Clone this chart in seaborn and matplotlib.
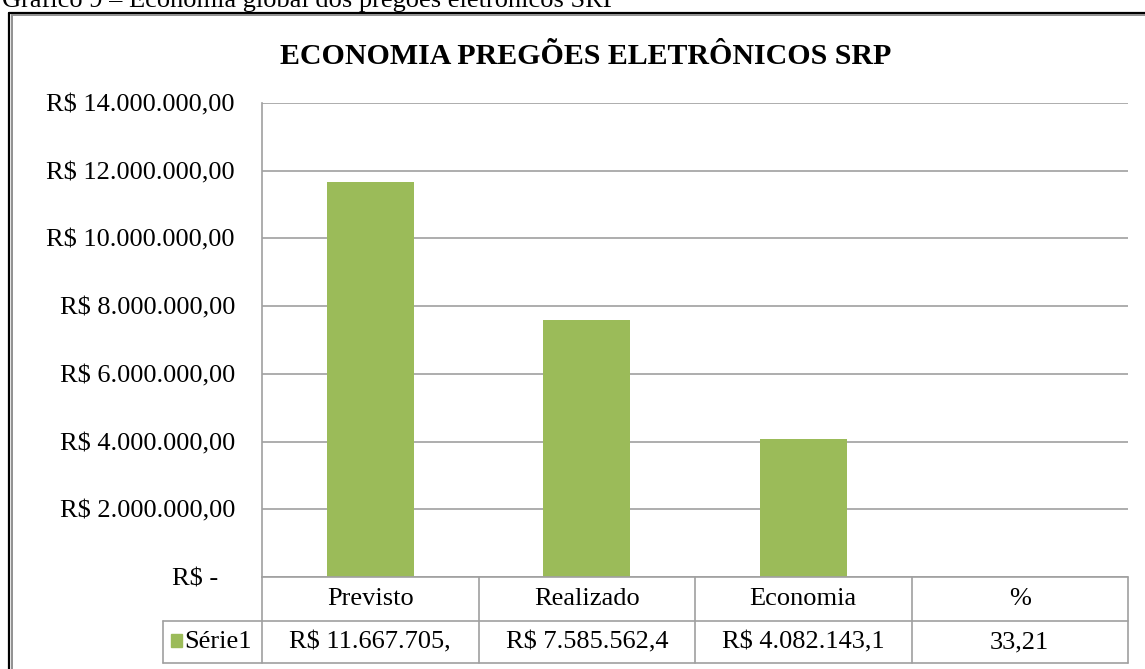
import matplotlib
matplotlib.use("Agg")
import matplotlib.pyplot as plt
import matplotlib.transforms as mtransforms
from matplotlib.lines import Line2D
from matplotlib.patches import Rectangle
import seaborn as sns

# dados do gráfico
categorias = ["Previsto", "Realizado", "Economia", "%"]
valores = [11667705.0, 7585562.4, 4082143.1, 33.21]
rotulos_tabela = ["R$ 11.667.705,", "R$ 7.585.562,4", "R$ 4.082.143,1", "33,21"]
serie = "Série1"
yticks = [0, 2000000, 4000000, 6000000, 8000000, 10000000, 12000000, 14000000]
ytick_labels = ["R$ -", "R$ 2.000.000,00", "R$ 4.000.000,00", "R$ 6.000.000,00",
                "R$ 8.000.000,00", "R$ 10.000.000,00", "R$ 12.000.000,00",
                "R$ 14.000.000,00"]

titulo = "ECONOMIA PREGÕES ELETRÔNICOS SRP"
legenda_fig = "Gráfico 9 – Economia global dos pregões eletrônicos SRP"

verde = "#9BBB59"
cinza = "#A0A0A0"

sns.set_theme(style="white")
plt.rcParams["font.family"] = ["Liberation Serif", "DejaVu Serif"]
plt.rcParams["text.color"] = "black"

W, H = 1145, 669
fig = plt.figure(figsize=(W / 100, H / 100), dpi=100)

# área de plotagem (em pixels da imagem)
left, right, top, bottom = 262, 1128, 103, 577
ax = fig.add_axes([left / W, 1 - bottom / H, (right - left) / W, (bottom - top) / H])

sns.barplot(x=categorias, y=valores, color=verde, saturation=1, width=0.4,
            linewidth=0, edgecolor="none", ax=ax)

ax.set_ylim(0, 14000000)
ax.set_xlim(-0.5, len(categorias) - 0.5)
ax.set_yticks(yticks)
ax.set_yticklabels(ytick_labels, fontsize=19)
ax.tick_params(axis="y", length=0, pad=19.5, colors="black")
ax.yaxis.get_major_ticks()[0].set_pad(31.5)
ax.set_xticks([])
ax.set_xlabel("")
ax.set_ylabel("")
ax.grid(axis="y", color=cinza, linewidth=1.2)
ax.set_axisbelow(True)
for lado in ["top", "right", "bottom"]:
    ax.spines[lado].set_visible(False)
ax.spines["left"].set_color(cinza)
ax.spines["left"].set_linewidth(1.2)

# tabela de dados sob o gráfico (x em categorias, y em fração do eixo)
ah = bottom - top
aw = right - left
y_meio = -(621 - bottom) / ah
y_fim = -(663 - bottom) / ah
x_leg = -0.5 - (left - 163) / aw * len(categorias)
trans = mtransforms.blended_transform_factory(ax.transData, ax.transAxes)
n = len(categorias)
linha = dict(color=cinza, linewidth=1.2, transform=trans, clip_on=False)
ax.add_line(Line2D([-0.5, n - 0.5], [0, 0], **linha))
ax.add_line(Line2D([x_leg, n - 0.5], [y_meio, y_meio], **linha))
ax.add_line(Line2D([x_leg, n - 0.5], [y_fim, y_fim], **linha))
ax.add_line(Line2D([x_leg, x_leg], [y_meio, y_fim], **linha))
for k in range(n + 1):
    ax.add_line(Line2D([k - 0.5, k - 0.5], [0, y_fim], **linha))
for i, (cat, rot) in enumerate(zip(categorias, rotulos_tabela)):
    ax.text(i, y_meio / 2, cat, transform=trans, fontsize=19, ha="center", va="center")
    ax.text(i, (y_meio + y_fim) / 2, rot, transform=trans, fontsize=19,
            ha="center", va="center")

# marcador da série na tabela
ax.add_patch(Rectangle(((171 - left) / aw, -(647 - bottom) / ah), 11 / aw, 13 / ah,
                       transform=ax.transAxes, color=verde, clip_on=False))
ax.text((184 - left) / aw, (y_meio + y_fim) / 2, serie,
        transform=ax.transAxes, fontsize=19, ha="left", va="center")

# título
fig.text(586 / W, 1 - 57 / H, titulo, fontsize=21.5, fontweight="bold",
         ha="center", va="center")

# legenda da figura (cortada no topo, como no original)
fig.text(2 / W, 1 - 7 / H, legenda_fig, fontsize=19, ha="left", va="baseline")

# moldura do gráfico
fig.add_artist(Line2D([9 / W, 9 / W], [0, 1 - 13 / H], color="black", linewidth=1.6))
fig.add_artist(Line2D([11.5 / W, 11.5 / W], [0, 1 - 15 / H], color="#909090", linewidth=1.4))
fig.add_artist(Line2D([9 / W, 1], [1 - 13 / H, 1 - 13 / H], color="black", linewidth=1.6))
fig.add_artist(Line2D([11.5 / W, 1], [1 - 15 / H, 1 - 15 / H], color="#909090", linewidth=1.4))

fig.savefig("out.png", dpi=100)
